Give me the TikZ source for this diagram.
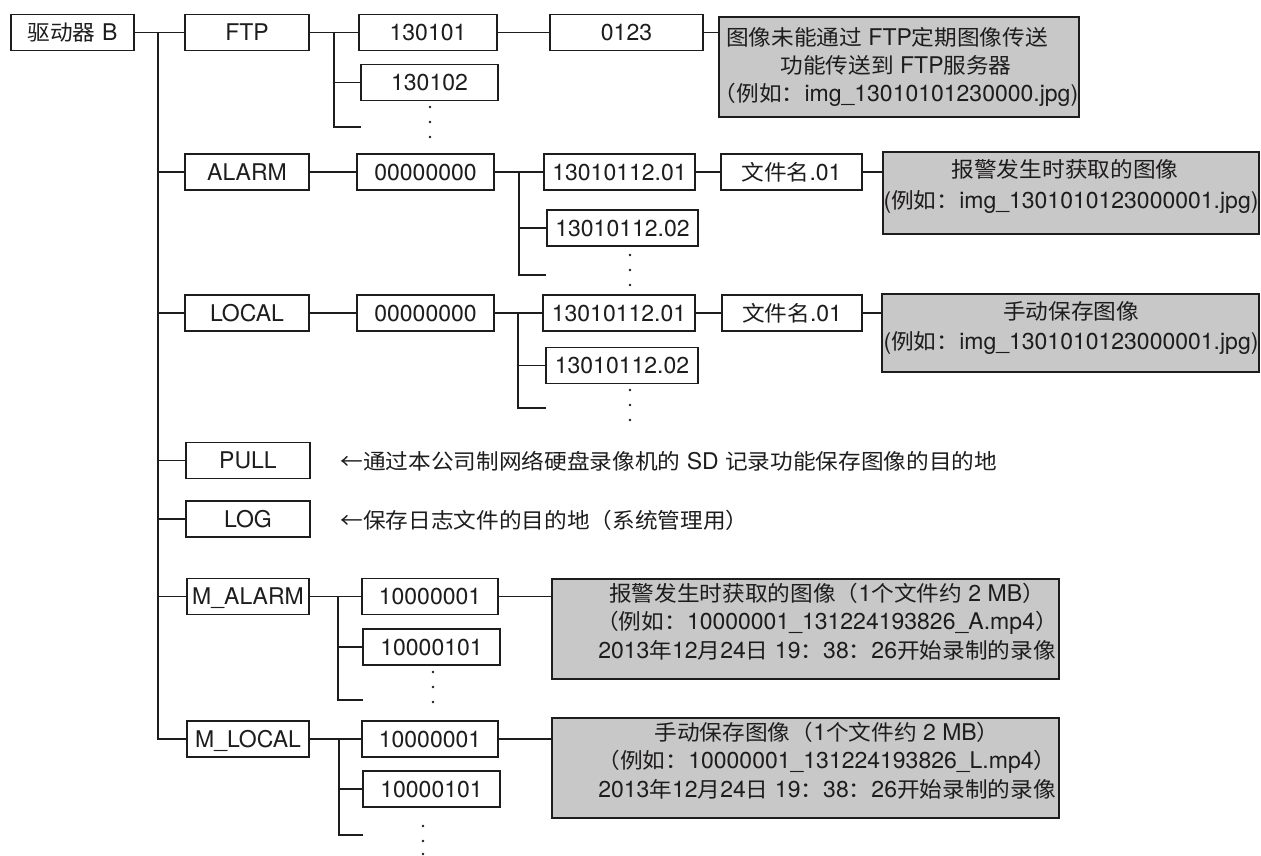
\documentclass[tikz,border=0pt]{standalone}
\usepackage{fontspec}
\setmainfont{TeX Gyre Heros}
\newfontfamily\zhfont{Noto Sans CJK SC}[Scale=0.93,FakeStretch=1.06]
\newcommand\zh[1]{{\zhfont #1}}
\definecolor{boxgray}{RGB}{200,200,200}
\definecolor{ink}{RGB}{30,28,28}
\begin{document}
\begin{tikzpicture}[x=0.5pt,y=-0.5pt,
  every node/.style={font=\fontsize{11.5}{14}\selectfont, text=ink},
  box/.style={draw=ink, line width=0.65pt, fill=white, inner sep=0pt, minimum height=18pt, text height=8.3pt, text depth=0pt},
  gbox/.style={draw=ink, line width=0.65pt, fill=boxgray, inner sep=0pt},
  gtext/.style={align=center, inner sep=0pt},
  conn/.style={draw=ink, line width=0.65pt},
  dotmark/.style={fill=ink}]
\useasboundingbox (0,0) rectangle (1261,855);

% level 0 / level 1
\node[box, minimum width=61.5pt] (root) at (72.5,32.5) {\zh{驱动器} B};
\node[box, minimum width=62pt] (ftp) at (247,32.5) {FTP};
\node[box, minimum width=62pt] (alarm) at (247,172) {ALARM};
\node[box, minimum width=62pt] (local) at (247,313) {LOCAL};
\node[box, minimum width=62pt] (pull) at (248,460.5) {PULL};
\node[box, minimum width=62pt] (log) at (248,519) {LOG};
\node[box, minimum width=61pt] (malarm) at (248,596.5) {M\_ALARM};
\node[box, minimum width=61pt] (mlocal) at (248,739) {M\_LOCAL};

% trunk
\coordinate (t) at (158,32.5);
\draw[conn] (root) -- (ftp);
\draw[conn] (t) |- (mlocal.west);
\foreach \n in {alarm,local,pull,log,malarm} \draw[conn] (t |- \n.west) -- (\n.west);

% FTP subtree
\node[box, minimum width=69pt] (f1) at (428,32.5) {130101};
\node[box, minimum width=68.5pt] (f2) at (429.5,82.5) {130102};
\node[box, minimum width=76.5pt] (f3) at (626.5,32.5) {0123};
\node[gbox, minimum width=180pt, minimum height=50pt] (fg) at (899,67) {};
\node[gtext, font=\fontsize{11.5}{14}\selectfont] (fgt) at (896,67) {\zh{图像未能通过} FTP\zh{定期图像传送}\hspace*{9pt}\\\zh{功能传送到} FTP\zh{服务器}\hspace*{11pt}\\\zh{（例如：}img\_13010101230000.jpg)};
\coordinate (fb) at (334,32.5);
\coordinate (fend) at (361,127);
\draw[conn] (ftp) -- (f1);
\draw[conn] (fb) |- (fend);
\draw[conn] (fb |- f2.west) -- (f2.west);
\draw[conn] (f1) -- (f3);
\draw[conn] (f3.east) -- (f3.east -| fg.west);
\foreach \yy in {107,122,137} \fill[dotmark] (430,\yy) circle[radius=0.7pt];

% ALARM subtree
\node[box, minimum width=68.5pt] (a1) at (425.5,172) {00000000};
\node[box, minimum width=75.5pt] (a2) at (619.5,172) {13010112.01};
\node[box, minimum width=75.5pt] (a3) at (622.5,228) {13010112.02};
\node[box, minimum width=70.5pt] (a4) at (791.5,172) {\zh{文件名}.01};
\node[gbox, minimum width=188pt, minimum height=41pt] (ag) at (1071,193) {};
\node[gtext, font=\fontsize{11.5}{15.5}\selectfont] (agt) at (1071,186.5) {\zh{报警发生时获取的图像}\hspace*{6pt}\\(\zh{例如：}img\_1301010123000001.jpg)};
\coordinate (ab) at (519,172);
\coordinate (aend) at (546,275);
\draw[conn] (alarm) -- (a1);
\draw[conn] (a1) -- (a2);
\draw[conn] (ab) |- (aend);
\draw[conn] (ab |- a3.west) -- (a3.west);
\draw[conn] (a2) -- (a4);
\draw[conn] (a4.east) -- (a4.east -| ag.west);
\foreach \yy in {255,270,285} \fill[dotmark] (630,\yy) circle[radius=0.7pt];

% LOCAL subtree
\node[box, minimum width=68.5pt] (l1) at (425.5,313) {00000000};
\node[box, minimum width=76pt] (l2) at (619,313) {13010112.01};
\node[box, minimum width=76pt] (l3) at (622,365.5) {13010112.02};
\node[box, minimum width=70pt] (l4) at (792,313) {\zh{文件名}.01};
\node[gbox, minimum width=188.5pt, minimum height=39pt] (lg) at (1070.5,333) {};
\node[gtext, font=\fontsize{11.5}{15}\selectfont] (lgt) at (1071,328) {\zh{手动保存图像}\\(\zh{例如：}img\_1301010123000001.jpg)};
\coordinate (lb) at (518,313);
\coordinate (lend) at (546,408);
\draw[conn] (local) -- (l1);
\draw[conn] (l1) -- (l2);
\draw[conn] (lb) |- (lend);
\draw[conn] (lb |- l3.west) -- (l3.west);
\draw[conn] (l2) -- (l4);
\draw[conn] (l4.east) -- (l4.east -| lg.west);
\foreach \yy in {390,405,420} \fill[dotmark] (630,\yy) circle[radius=0.7pt];

% PULL / LOG notes
\node[anchor=west, inner sep=0pt] (pullt) at (340,461) {\zh{←通过本公司制网络硬盘录像机的} SD \zh{记录功能保存图像的目的地}};
\node[anchor=west, inner sep=0pt] (logt) at (340,520) {\zh{←保存日志文件的目的地（系统管理用）}};

% M_ALARM subtree
\node[box, minimum width=68pt] (m1) at (430,596.5) {10000001};
\node[box, minimum width=68.5pt] (m2) at (431.5,647) {10000101};
\node[gbox, minimum width=253.5pt, minimum height=50pt] (mg) at (805.5,629) {};
\node[gtext, font=\fontsize{11.5}{14.25}\selectfont] (mgt) at (827,621.5) {\zh{报警发生时获取的图像（}1\zh{个文件约} 2 MB\zh{）}\\\zh{（例如：}10000001\_131224193826\_A.mp4\zh{）}\\2013\zh{年}12\zh{月}24\zh{日} 19\zh{：}38\zh{：}26\zh{开始录制的录像}};
\coordinate (mb) at (338,596.5);
\coordinate (mend) at (363,700);
\draw[conn] (malarm) -- (m1);
\draw[conn] (mb) |- (mend);
\draw[conn] (mb |- m2.west) -- (m2.west);
\draw[conn] (m1.east) -- (m1.east -| mg.west);
\foreach \yy in {672,687,702} \fill[dotmark] (433,\yy) circle[radius=0.7pt];

% M_LOCAL subtree
\node[box, minimum width=68pt] (n1) at (430,739) {10000001};
\node[box, minimum width=68.5pt] (n2) at (431.5,789) {10000101};
\node[gbox, minimum width=253.5pt, minimum height=50pt] (ng) at (805.5,768) {};
\node[gtext, font=\fontsize{11.5}{14.25}\selectfont] (ngt) at (827,760.5) {\zh{手动保存图像（}1\zh{个文件约} 2 MB\zh{）}\\\zh{（例如：}10000001\_131224193826\_L.mp4\zh{）}\\2013\zh{年}12\zh{月}24\zh{日} 19\zh{：}38\zh{：}26\zh{开始录制的录像}};
\coordinate (nb) at (339,739);
\coordinate (nend) at (363,835);
\draw[conn] (mlocal) -- (n1);
\draw[conn] (nb) |- (nend);
\draw[conn] (nb |- n2.west) -- (n2.west);
\draw[conn] (n1.east) -- (n1.east -| ng.west);
\foreach \yy in {826,841,854} \fill[dotmark] (423,\yy) circle[radius=0.7pt];
\end{tikzpicture}
\end{document}
